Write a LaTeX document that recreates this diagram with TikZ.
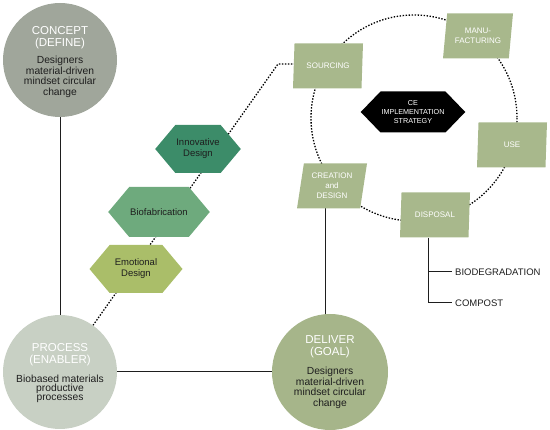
\documentclass[tikz,border=0pt]{standalone}
\usepackage{fontspec}
\setmainfont{Liberation Sans}
\usetikzlibrary{shapes.geometric,shapes.symbols,backgrounds}
\definecolor{cgray}{HTML}{A0A69B}
\definecolor{cpale}{HTML}{C8D0C4}
\definecolor{cgoal}{HTML}{A6B58A}
\definecolor{cpar}{HTML}{A8B88C}
\definecolor{cinno}{HTML}{3C8C69}
\definecolor{cbio}{HTML}{6EAA7D}
\definecolor{cemo}{HTML}{AABE69}
\definecolor{ctxt}{HTML}{1E1E1E}
\begin{document}
\begin{tikzpicture}[x=1pt,y=-1pt,
  bigcircle/.style={circle,minimum size=114pt,inner sep=0pt},
  ctitle/.style={inner sep=0pt,align=center,text=white,font=\fontsize{11.5}{12}\selectfont},
  cbody/.style={inner sep=0pt,align=center,text=ctxt,font=\fontsize{10.3}{10.5}\selectfont},
  hexa/.style={shape=signal,signal to=east and west,signal from=nowhere,
    signal pointer angle=100,inner sep=1pt,align=center,text=ctxt,
    font=\fontsize{9.5}{11}\selectfont},
  parbox/.style={trapezium,trapezium left angle=75,trapezium right angle=105,
    trapezium stretches body=true,minimum width=70pt,minimum height=45pt,inner sep=0pt,
    fill=cpar,text=white,align=center,font=\fontsize{8}{10}\selectfont},
  dotline/.style={line width=1.3pt,dash pattern=on 1.4pt off 1.6pt},
  solidline/.style={line width=1pt,draw=ctxt},
  leaf/.style={anchor=west,inner sep=3pt,text=ctxt,font=\fontsize{9.5}{11}\selectfont}]
\useasboundingbox (0,0) rectangle (550,430);

% circles
\node[bigcircle,fill=cgray] (concept) at (60,60) {};
\node[ctitle] (conceptT) at (60,38) {CONCEPT\\(DEFINE)};
\node[cbody] (conceptB) at (60,77) {Designers\\material-driven\\mindset circular\\change};

\node[bigcircle,fill=cpale] (process) at (60,372) {};
\node[ctitle] (processT) at (60,355) {PROCESS\\(ENABLER)};
\node[cbody,font=\fontsize{10.3}{9}\selectfont] (processB) at (60,389) {Biobased materials\\productive\\processes};

\node[bigcircle,fill=cgoal,minimum size=116pt] (deliver) at (330,372) {};
\node[ctitle] (deliverT) at (330,347) {DELIVER\\(GOAL)};
\node[cbody] (deliverB) at (330,388) {Designers\\material-driven\\mindset circular\\change};

% hexagons
\node[hexa,fill=cinno,minimum width=82pt,minimum height=48pt] (inno) at (198,149) {Innovative\\Design};
\node[hexa,fill=cbio,minimum width=92pt,minimum height=50pt] (biofab) at (159,212) {Biofabrication};
\node[hexa,fill=cemo,minimum width=93pt,minimum height=48pt] (emo) at (136,269) {Emotional\\Design};
\node[hexa,fill=black,text=white,signal pointer angle=92,minimum width=78pt,minimum height=41pt,
  font=\fontsize{7.2}{9}\selectfont] (ce) at (413,112) {CE\\IMPLEMENTATION\\STRATEGY};

% parallelograms
\node[parbox] (sourcing) at (328,66) {SOURCING};
\node[parbox] (manu) at (478,36) {MANU-\\FACTURING};
\node[parbox] (use) at (512,145) {USE};
\node[parbox] (creation) at (332,186) {CREATION\\and\\DESIGN};
\node[parbox] (disposal) at (435,215) {DISPOSAL};

% leaves
\node[leaf] (bio) at (452,272) {BIODEGRADATION};
\node[leaf] (compost) at (452,303) {COMPOST};
\coordinate (corner) at (278,64);
\coordinate (dstem) at (428,238);
\coordinate (cstem) at (325,200);
\coordinate (ring) at (414,118);

\begin{pgfonlayer}{background}
  \draw[solidline] (concept) -- (process);
  \draw[solidline] (process) -- (deliver);
  \draw[solidline] (cstem) -- (cstem |- deliver.center);
  \draw[dotline] (process) -- (corner) -- (corner -| sourcing.center);
  \draw[dotline] (ring) circle[radius=103];
  \draw[solidline] (dstem) |- (compost.west);
  \draw[solidline] (dstem |- bio.west) -- (bio.west);
\end{pgfonlayer}
\end{tikzpicture}
\end{document}
